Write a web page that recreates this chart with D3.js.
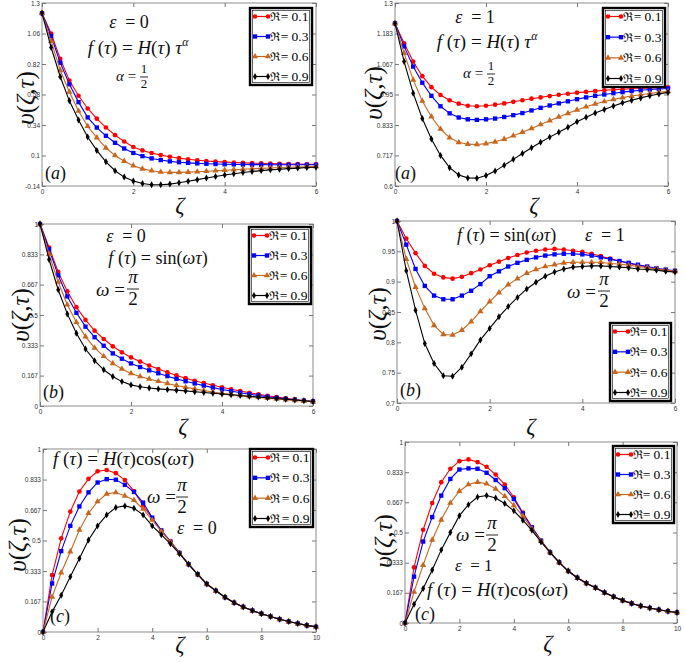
<!DOCTYPE html>
<html><head><meta charset="utf-8">
<script src="https://cdn.jsdelivr.net/npm/d3@7"></script>
<style>body{margin:0;background:#fff} svg{display:block} text{white-space:pre}</style>
</head><body>
<svg id="c" width="685" height="662"></svg>
<script>
// ---------- data ----------
const zeta6 = [0,0.2,0.4,0.6,0.8,1,1.2,1.4,1.6,1.8,2,2.2,2.4,2.6,2.8,3,3.2,3.4,3.6,3.8,4,4.2,4.4,4.6,4.8,5,5.2,5.4,5.6,5.8,6];
const zeta10 = [0,0.333,0.667,1,1.333,1.667,2,2.333,2.667,3,3.333,3.667,4,4.333,4.667,5,5.333,5.667,6,6.333,6.667,7,7.333,7.667,8,8.333,8.667,9,9.333,9.667,10];
const seriesValues = ["0.1","0.3","0.6","0.9"];

// (a) eps=0, f=H(t)t^a
const aR = [1.22,1.06,0.86,0.69,0.57,0.47,0.39,0.32,0.26,0.21,0.167,0.14,0.12,0.103,0.09,0.079,0.07,0.063,0.057,0.052,0.048,0.045,0.042,0.04,0.038,0.036,0.034,0.033,0.032,0.031,0.03];
const aB = [1.22,1.04,0.83,0.66,0.52,0.40,0.32,0.255,0.20,0.155,0.12,0.095,0.077,0.064,0.054,0.047,0.042,0.038,0.035,0.033,0.031,0.03,0.029,0.028,0.028,0.027,0.027,0.027,0.027,0.027,0.027];
const aO = [1.22,1.0,0.77,0.60,0.45,0.33,0.24,0.16,0.10,0.055,0.02,-0.005,-0.02,-0.03,-0.033,-0.033,-0.031,-0.028,-0.024,-0.02,-0.016,-0.012,-0.008,-0.004,-0.001,0.002,0.005,0.008,0.01,0.012,0.014];
const aK = [1.22,0.95,0.72,0.53,0.38,0.245,0.14,0.05,-0.02,-0.07,-0.10,-0.12,-0.13,-0.13,-0.125,-0.115,-0.103,-0.09,-0.077,-0.065,-0.053,-0.043,-0.034,-0.026,-0.019,-0.013,-0.008,-0.003,0.001,0.005,0.008];
// (a) eps=1
const a1R = [1.222,1.146,1.076,1.02,0.978,0.948,0.928,0.915,0.907,0.905,0.907,0.911,0.916,0.922,0.928,0.934,0.939,0.944,0.949,0.953,0.957,0.96,0.963,0.966,0.968,0.97,0.972,0.973,0.975,0.976,0.977];
const a1B = [1.222,1.134,1.057,0.995,0.945,0.905,0.878,0.862,0.855,0.853,0.855,0.858,0.864,0.871,0.879,0.889,0.899,0.908,0.916,0.924,0.932,0.939,0.945,0.95,0.955,0.959,0.963,0.966,0.969,0.971,0.973];
const a1O = [1.222,1.108,1.006,0.925,0.865,0.818,0.785,0.767,0.76,0.759,0.762,0.769,0.779,0.792,0.806,0.82,0.835,0.85,0.864,0.878,0.891,0.903,0.914,0.923,0.931,0.938,0.944,0.949,0.954,0.958,0.962];
const a1K = [1.222,1.076,0.955,0.858,0.78,0.717,0.67,0.642,0.631,0.63,0.64,0.657,0.679,0.702,0.724,0.746,0.767,0.787,0.806,0.825,0.846,0.863,0.879,0.893,0.906,0.918,0.928,0.937,0.945,0.952,0.958];
// (b) eps=0, sin
const bR = [1.0,0.871,0.737,0.63,0.543,0.473,0.414,0.368,0.328,0.295,0.267,0.244,0.222,0.203,0.185,0.168,0.153,0.139,0.126,0.114,0.103,0.092,0.082,0.073,0.064,0.056,0.049,0.042,0.036,0.03,0.025];
const bB = [1.0,0.86,0.718,0.602,0.512,0.436,0.378,0.331,0.289,0.26,0.234,0.214,0.196,0.18,0.164,0.149,0.136,0.124,0.112,0.101,0.091,0.082,0.073,0.065,0.058,0.051,0.045,0.039,0.034,0.029,0.025];
const bO = [1.0,0.834,0.681,0.556,0.46,0.381,0.319,0.273,0.234,0.203,0.179,0.162,0.148,0.136,0.124,0.113,0.103,0.094,0.085,0.077,0.07,0.064,0.058,0.053,0.048,0.043,0.039,0.035,0.031,0.027,0.024];
const bK = [1.0,0.805,0.639,0.506,0.4,0.313,0.249,0.199,0.162,0.134,0.116,0.106,0.099,0.094,0.09,0.087,0.083,0.078,0.074,0.07,0.066,0.062,0.058,0.053,0.049,0.045,0.041,0.037,0.033,0.029,0.025];
// (b) eps=1, sin
const b1R = [1.0,0.971,0.947,0.926,0.913,0.907,0.905,0.908,0.914,0.92,0.927,0.933,0.939,0.944,0.948,0.951,0.953,0.954,0.953,0.951,0.949,0.946,0.942,0.938,0.934,0.93,0.927,0.924,0.921,0.919,0.917];
const b1B = [1.0,0.961,0.921,0.893,0.877,0.871,0.871,0.877,0.885,0.896,0.909,0.917,0.925,0.931,0.936,0.94,0.943,0.945,0.946,0.946,0.945,0.943,0.94,0.937,0.934,0.931,0.928,0.925,0.922,0.92,0.918];
const b1O = [1.0,0.937,0.891,0.856,0.828,0.813,0.812,0.82,0.834,0.851,0.867,0.882,0.895,0.905,0.914,0.92,0.925,0.928,0.931,0.932,0.932,0.932,0.932,0.93,0.929,0.927,0.925,0.923,0.921,0.919,0.917];
const b1K = [1.0,0.918,0.853,0.798,0.765,0.745,0.744,0.759,0.781,0.804,0.823,0.842,0.859,0.874,0.888,0.899,0.909,0.916,0.921,0.924,0.925,0.926,0.926,0.925,0.924,0.923,0.921,0.92,0.919,0.917,0.916];
// (c) eps=0, H cos
const cR = [0,0.311,0.512,0.658,0.768,0.837,0.878,0.885,0.868,0.83,0.77,0.69,0.62,0.555,0.495,0.432,0.37,0.315,0.262,0.225,0.19,0.16,0.137,0.117,0.1,0.085,0.07,0.057,0.046,0.036,0.028];
const cB = [0,0.265,0.442,0.58,0.686,0.763,0.817,0.835,0.832,0.804,0.765,0.707,0.625,0.555,0.494,0.432,0.37,0.315,0.262,0.225,0.19,0.16,0.137,0.117,0.1,0.085,0.07,0.057,0.046,0.036,0.028];
const cO = [0,0.192,0.324,0.439,0.558,0.649,0.713,0.755,0.762,0.744,0.72,0.672,0.612,0.55,0.492,0.43,0.37,0.315,0.262,0.225,0.19,0.16,0.137,0.117,0.1,0.085,0.07,0.057,0.046,0.036,0.028];
const cK = [0,0.11,0.201,0.302,0.402,0.503,0.58,0.64,0.68,0.689,0.676,0.64,0.58,0.532,0.482,0.428,0.37,0.315,0.262,0.225,0.19,0.16,0.137,0.117,0.1,0.085,0.07,0.057,0.046,0.036,0.028];
// (c) eps=1, H cos
const c1R = [0,0.307,0.515,0.663,0.778,0.852,0.894,0.904,0.889,0.863,0.82,0.765,0.695,0.61,0.53,0.455,0.39,0.335,0.287,0.25,0.22,0.195,0.168,0.145,0.125,0.108,0.094,0.083,0.073,0.065,0.058];
const c1B = [0,0.256,0.45,0.585,0.704,0.796,0.848,0.854,0.852,0.83,0.79,0.745,0.685,0.605,0.528,0.455,0.39,0.335,0.287,0.25,0.22,0.195,0.168,0.145,0.125,0.108,0.094,0.083,0.073,0.065,0.058];
const c1O = [0,0.172,0.32,0.459,0.57,0.663,0.728,0.765,0.778,0.769,0.741,0.7,0.65,0.59,0.52,0.452,0.39,0.335,0.287,0.25,0.22,0.195,0.168,0.145,0.125,0.108,0.094,0.083,0.073,0.065,0.058];
const c1K = [0,0.104,0.191,0.293,0.404,0.5,0.593,0.654,0.696,0.704,0.691,0.66,0.62,0.568,0.512,0.448,0.39,0.335,0.287,0.25,0.22,0.195,0.168,0.145,0.125,0.108,0.094,0.083,0.073,0.065,0.058];

// tick values and labels
const xt6 = [0,2,4,6], xt10 = [0,2,4,6,8,10];
const ytA = [-0.14,0.1,0.34,0.58,0.82,1.06,1.3], ytlA = ["-0.14","0.1","0.34","0.58","0.82","1.06","1.3"];
const ytA1 = [0.6,0.717,0.833,0.95,1.067,1.183,1.3], ytlA1 = ["0.6","0.717","0.833","0.95","1.067","1.183","1.3"];
const ytU = [0,0.167,0.333,0.5,0.667,0.833,1], ytlU = ["0","0.167","0.333","0.5","0.667","0.833","1"];
const ytB1 = [0.7,0.75,0.8,0.85,0.9,0.95,1], ytlB1 = ["0.7","0.75","0.8","0.85","0.9","0.95","1"];

// ---------- styles ----------
const SERIF = '"Liberation Serif","Times New Roman",Times,serif';
const SANS = '"Liberation Sans",Arial,sans-serif';
const colors = ['#ff0000','#0000ff','#c8661e','#000000'];
const symbols = [d3.symbolCircle, d3.symbolSquare, d3.symbolTriangle, d3.symbolDiamond];
const symSizes = [17, 19, 17, 14];

const svg = d3.select('#c');

const panels = [
  {xs:zeta6, ys:[aR,aB,aO,aK], xd:[0,6], yd:[-0.14,1.3], xt:xt6, yt:ytA, ytl:ytlA, box:[42,3,316,186], leg:[250,8,62,77], ylab:[26,98], xlab:[180,213]},
  {xs:zeta6, ys:[a1R,a1B,a1O,a1K], xd:[0,6], yd:[0.6,1.3], xt:xt6, yt:ytA1, ytl:ytlA1, box:[395,3,668,186], leg:[603,8,62,79], ylab:[374,93], xlab:[534,213]},
  {xs:zeta6, ys:[bR,bB,bO,bK], xd:[0,6], yd:[0,1], xt:xt6, yt:ytU, ytl:ytlU, box:[40,224,313,406], leg:[249,227,62,77], ylab:[21,315], xlab:[183,434]},
  {xs:zeta6, ys:[b1R,b1B,b1O,b1K], xd:[0,6], yd:[0.7,1], xt:xt6, yt:ytB1, ytl:ytlB1, box:[397,221,675,403], leg:[610,323,61,78], ylab:[378,314], xlab:[531,434]},
  {xs:zeta10, ys:[cR,cB,cO,cK], xd:[0,10], yd:[0,1], xt:xt10, yt:ytU, ytl:ytlU, box:[43,449,316,632], leg:[250,449,63,78], ylab:[18,545], xlab:[180,652]},
  {xs:zeta10, ys:[c1R,c1B,c1O,c1K], xd:[0,10], yd:[0,1], xt:xt10, yt:ytU, ytl:ytlU, box:[405,442,677,623], leg:[613,446,61,77], ylab:[384,541], xlab:[548,651]}
];

function drawPanel(p) {
  const [x0,y0,x1,y1] = p.box;
  const g = svg.append('g');
  const x = d3.scaleLinear().domain(p.xd).range([x0,x1]);
  const y = d3.scaleLinear().domain(p.yd).range([y1,y0]);
  g.append('rect').attr('x',x0).attr('y',y0).attr('width',x1-x0).attr('height',y1-y0)
    .attr('fill','#fff').attr('stroke','#8c8c8c').attr('stroke-width',1);
  const styleAx = sel => { sel.select('.domain').remove(); sel.selectAll('line').attr('stroke','#777');
    sel.selectAll('text').attr('font-family',SANS).attr('font-size',6.5).attr('fill','#333'); };
  g.append('g').attr('transform',`translate(${x0},0)`)
    .call(d3.axisLeft(y).tickValues(p.yt).tickFormat((d,i)=>p.ytl[i]).tickSizeInner(-4).tickSizeOuter(0).tickPadding(2)).call(styleAx);
  g.append('g').attr('transform',`translate(${x1},0)`)
    .call(d3.axisRight(y).tickValues(p.yt).tickFormat('').tickSizeInner(-4).tickSizeOuter(0)).call(styleAx);
  g.append('g').attr('transform',`translate(0,${y1})`)
    .call(d3.axisBottom(x).tickValues(p.xt).tickFormat(d3.format('d')).tickSizeInner(-4).tickSizeOuter(0).tickPadding(3)).call(styleAx);
  g.append('g').attr('transform',`translate(0,${y0})`)
    .call(d3.axisTop(x).tickValues(p.xt).tickFormat('').tickSizeInner(-4).tickSizeOuter(0)).call(styleAx);

  const line = d3.line().x((d,i)=>x(p.xs[i])).y(d=>y(d));
  p.ys.forEach((arr,k) => {
    g.append('path').datum(arr).attr('d',line).attr('fill','none').attr('stroke',colors[k]).attr('stroke-width',1.1);
    g.selectAll(null).data(arr).enter().append('path')
      .attr('d', d3.symbol().type(symbols[k]).size(symSizes[k]))
      .attr('transform',(d,i)=>`translate(${x(p.xs[i])},${y(d)})`)
      .attr('fill',colors[k]);
  });

  // legend
  const [lx,ly,lw,lh] = p.leg;
  const lg = g.append('g');
  lg.append('rect').attr('x',lx).attr('y',ly).attr('width',lw).attr('height',lh)
    .attr('fill','#fff').attr('stroke','#000').attr('stroke-width',2.4);
  lg.append('rect').attr('x',lx+2.6).attr('y',ly+2.6).attr('width',lw-5.2).attr('height',lh-5.2)
    .attr('fill','none').attr('stroke','#000').attr('stroke-width',0.6);
  const step = (lh-17)/3;
  seriesValues.forEach((v,k) => {
    const yy = ly + 8.5 + k*step;
    lg.append('line').attr('x1',lx+4).attr('x2',lx+19).attr('y1',yy).attr('y2',yy)
      .attr('stroke',colors[k]).attr('stroke-width',1.2);
    [lx+5,lx+18].forEach(xx => lg.append('path')
      .attr('d', d3.symbol().type(symbols[k]).size(symSizes[k]))
      .attr('transform',`translate(${xx},${yy})`).attr('fill',colors[k]));
    lg.append('text').attr('x',lx+20).attr('y',yy+4.5).attr('font-family','"DejaVu Serif",serif')
      .attr('font-size',12).attr('fill','#000').text('\u211C');
    lg.append('text').attr('x',lx+lw-3.5).attr('y',yy+4.5).attr('text-anchor','end').attr('font-family',SERIF)
      .attr('font-size',13.5).attr('fill','#000').text('= ' + v);
  });

  // axis labels
  svg.append('text').attr('transform',`translate(${p.ylab[0]+8},${p.ylab[1]}) rotate(-90)`)
    .attr('text-anchor','middle').attr('font-family',SERIF).attr('font-size',25).attr('fill','#111')
    .html('<tspan font-style="italic">\u03C5</tspan>(<tspan font-style="italic">\u03B6</tspan>,<tspan font-style="italic">\u03C4</tspan>)');
  svg.append('text').attr('x',p.xlab[0]).attr('y',p.xlab[1]).attr('text-anchor','middle')
    .attr('font-family',SERIF).attr('font-style','italic').attr('font-size',23).attr('fill','#111').text('\u03B6');
}
panels.forEach(drawPanel);

// ---------- annotations ----------
function mtext(x, y, parts, size, anchor) {
  const t = svg.append('text').attr('x',x).attr('y',y).attr('font-family',SERIF).attr('font-size',size)
    .attr('text-anchor',anchor||'start').attr('fill','#111');
  parts.forEach(([s,st]) => {
    const ts = t.append('tspan').text(s);
    if (st.indexOf('i')>=0) ts.attr('font-style','italic');
    if (st.indexOf('s')>=0) ts.attr('font-size',size*0.62).attr('dy',-size*0.42);
  });
}
function frac(cx, yb, num, den, size, w, italicNum) {
  const t1 = svg.append('text').attr('x',cx).attr('y',yb-size*0.3).attr('text-anchor','middle')
    .attr('font-family',SERIF).attr('font-size',size).attr('fill','#111').text(num);
  if (italicNum) t1.attr('font-style','italic');
  svg.append('line').attr('x1',cx-w/2).attr('x2',cx+w/2).attr('y1',yb).attr('y2',yb).attr('stroke','#111').attr('stroke-width',0.9);
  svg.append('text').attr('x',cx).attr('y',yb+size*0.85).attr('text-anchor','middle')
    .attr('font-family',SERIF).attr('font-size',size).attr('fill','#111').text(den);
}
const fH_a = [["f","i"],[" (","n"],["\u03C4","i"],[") = ","n"],["H","i"],["(","n"],["\u03C4","i"],[") ","n"],["\u03C4","i"],["\u03B1","is"]];
const fSin = [["f","i"],[" (","n"],["\u03C4","i"],[") = sin(","n"],["\u03C9\u03C4","i"],[")","n"]];
const fCos = [["f","i"],[" (","n"],["\u03C4","i"],[") = ","n"],["H","i"],["(","n"],["\u03C4","i"],[")cos(","n"],["\u03C9\u03C4","i"],[")","n"]];
const eps = v => [["\u03B5","i"],["  = "+v,"n"]];
const omegaEq = [["\u03C9","i"],[" =","n"]];
const alphaEq = [["\u03B1","i"],[" =","n"]];

// panel (a) eps=0
mtext(129,28,eps(0),18,'middle');
mtext(138,54,fH_a,19,'middle');
mtext(116,81,alphaEq,15);
frac(144,77,"1","2",13,8);
mtext(45,179,[["(","n"],["a","i"],[")","n"]],18);
// panel (a) eps=1
mtext(475,23,eps(1),18,'middle');
mtext(487,48,fH_a,19,'middle');
mtext(463,78,alphaEq,15);
frac(491,74,"1","2",13,8);
mtext(395,179,[["(","n"],["a","i"],[")","n"]],18);
// panel (b) eps=0
mtext(126,242,eps(0),18,'middle');
mtext(158,264,fSin,18,'middle');
mtext(96,296,omegaEq,19);
frac(133,289,"\u03C0","2",19,12,true);
mtext(43,398,[["(","n"],["b","i"],[")","n"]],18);
// panel (b) eps=1
mtext(457,241,fSin,18);
mtext(585,241,eps(1),18);
mtext(567,298,omegaEq,19);
frac(604,291,"\u03C0","2",19,12,true);
mtext(400,396,[["(","n"],["b","i"],[")","n"]],18);
// panel (c) eps=0
mtext(53,465,fCos,19);
mtext(147,503,omegaEq,19);
frac(182,497,"\u03C0","2",19,12,true);
mtext(177,534,eps(0),18);
mtext(50,622,[["(","n"],["c","i"],[")","n"]],18);
// panel (c) eps=1
mtext(456,541,omegaEq,19);
frac(492,535,"\u03C0","2",19,12,true);
mtext(455,571,eps(1),17);
mtext(427,596,fCos,19);
mtext(415,620,[["(","n"],["c","i"],[")","n"]],18);
</script>
</body></html>
